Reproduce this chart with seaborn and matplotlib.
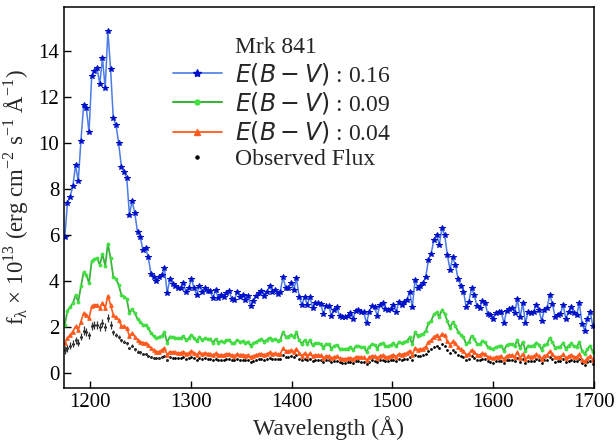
import numpy as np
import matplotlib
matplotlib.use('Agg')
import matplotlib.pyplot as plt
from matplotlib.lines import Line2D
import seaborn as sns

# Mrk 841 UV spectrum (flux in 1e-13 erg/cm2/s/A)
N_PIX = 197
WAVE = np.linspace(1174.9, 1699.0, N_PIX)

FLUX_016 = [
    5.93, 7.41, 7.69, 8.13, 9.06, 8.36, 10.12, 11.68, 11.54, 10.48,
    12.92, 13.13, 13.26, 12.60, 13.70, 12.39, 14.89, 13.25, 11.10, 10.81,
    10.02, 8.99, 8.75, 8.51, 6.90, 7.49, 6.97, 6.14, 5.93, 5.37,
    5.45, 5.04, 4.33, 4.17, 4.00, 4.17, 4.27, 4.58, 3.49, 4.10,
    3.88, 3.78, 3.71, 3.71, 3.95, 3.53, 3.71, 4.10, 3.71, 3.42,
    3.82, 3.53, 3.71, 3.60, 3.60, 3.27, 3.63, 3.27, 3.42, 3.32,
    3.49, 3.59, 3.23, 3.20, 3.56, 3.32, 3.42, 3.20, 3.37, 2.94,
    3.16, 3.37, 3.49, 3.60, 3.37, 3.56, 3.78, 3.56, 3.63, 3.46,
    3.56, 4.19, 3.73, 3.71, 3.92, 3.63, 4.14, 3.34, 2.98, 3.34,
    2.98, 3.34, 2.84, 3.08, 3.05, 3.01, 2.59, 2.94, 2.94, 2.50,
    2.76, 2.88, 2.50, 2.45, 2.45, 2.50, 2.62, 2.37, 2.73, 2.76,
    2.68, 2.65, 2.18, 2.69, 2.94, 2.88, 2.50, 2.98, 3.05, 2.79,
    2.75, 2.81, 2.98, 2.66, 3.10, 2.98, 3.12, 3.20, 3.55, 2.88,
    4.04, 3.73, 3.81, 3.92, 4.21, 4.94, 5.20, 5.81, 6.03, 5.59,
    6.30, 6.03, 5.16, 4.50, 5.04, 4.72, 4.10, 3.81, 3.56, 2.88,
    3.12, 3.71, 3.39, 2.94, 2.86, 3.15, 3.08, 2.58, 2.55, 2.36,
    2.62, 2.65, 2.69, 2.18, 2.72, 2.79, 2.84, 2.62, 3.24, 2.43,
    3.05, 2.18, 2.69, 2.62, 2.69, 2.98, 2.76, 2.28, 2.76, 2.84,
    3.42, 3.02, 2.47, 2.55, 2.58, 2.98, 2.36, 2.69, 2.88, 2.62,
    2.55, 3.05, 2.15, 1.86, 2.36, 2.69, 2.07,
]

FLUX_009 = [
    2.11, 2.72, 2.88, 3.05, 3.40, 3.12, 3.78, 4.40, 4.29, 3.92,
    4.87, 4.97, 5.01, 4.72, 5.19, 4.68, 5.64, 5.01, 4.21, 4.10,
    3.85, 3.42, 3.34, 3.23, 2.62, 2.79, 2.62, 2.36, 2.25, 2.11,
    2.11, 1.97, 1.75, 1.63, 1.53, 1.58, 1.63, 1.78, 1.34, 1.60,
    1.59, 1.55, 1.52, 1.52, 1.62, 1.45, 1.52, 1.68, 1.52, 1.40,
    1.57, 1.45, 1.52, 1.48, 1.48, 1.34, 1.49, 1.34, 1.40, 1.36,
    1.43, 1.47, 1.32, 1.31, 1.46, 1.36, 1.40, 1.31, 1.38, 1.21,
    1.30, 1.38, 1.43, 1.48, 1.38, 1.46, 1.55, 1.46, 1.49, 1.42,
    1.46, 1.80, 1.60, 1.60, 1.69, 1.56, 1.78, 1.44, 1.28, 1.44,
    1.28, 1.44, 1.22, 1.32, 1.31, 1.29, 1.11, 1.26, 1.26, 1.08,
    1.19, 1.24, 1.08, 1.05, 1.05, 1.08, 1.13, 1.02, 1.17, 1.19,
    1.15, 1.14, 0.94, 1.16, 1.26, 1.24, 1.08, 1.28, 1.31, 1.20,
    1.18, 1.24, 1.31, 1.17, 1.36, 1.31, 1.37, 1.41, 1.56, 1.27,
    1.78, 1.64, 1.68, 1.72, 1.85, 2.17, 2.29, 2.56, 2.65, 2.46,
    2.77, 2.60, 2.27, 1.98, 2.22, 2.08, 1.80, 1.68, 1.57, 1.27,
    1.37, 1.63, 1.49, 1.29, 1.26, 1.39, 1.36, 1.14, 1.12, 1.04,
    1.15, 1.17, 1.21, 0.98, 1.22, 1.26, 1.28, 1.18, 1.46, 1.09,
    1.37, 0.98, 1.21, 1.18, 1.21, 1.34, 1.24, 1.03, 1.24, 1.28,
    1.54, 1.36, 1.11, 1.15, 1.16, 1.34, 1.06, 1.21, 1.30, 1.18,
    1.15, 1.37, 0.97, 0.84, 1.06, 1.21, 0.93,
]

FLUX_004 = [
    1.31, 1.53, 1.68, 1.82, 2.04, 1.89, 2.25, 2.62, 2.55, 2.40,
    2.91, 2.98, 2.98, 2.84, 3.08, 2.84, 3.37, 2.98, 2.55, 2.43,
    2.33, 2.07, 2.04, 1.97, 1.63, 1.75, 1.60, 1.46, 1.38, 1.34,
    1.31, 1.24, 1.10, 1.02, 0.95, 0.95, 1.02, 1.10, 0.81, 0.95,
    0.93, 0.91, 0.89, 0.89, 0.95, 0.85, 0.89, 0.98, 0.89, 0.82,
    0.92, 0.85, 0.89, 0.86, 0.86, 0.78, 0.87, 0.78, 0.82, 0.80,
    0.84, 0.86, 0.78, 0.77, 0.85, 0.80, 0.82, 0.77, 0.81, 0.71,
    0.76, 0.81, 0.84, 0.86, 0.81, 0.85, 0.91, 0.85, 0.87, 0.83,
    0.85, 1.09, 0.97, 0.96, 1.02, 0.94, 1.08, 0.87, 0.77, 0.87,
    0.77, 0.87, 0.74, 0.80, 0.79, 0.78, 0.67, 0.76, 0.76, 0.65,
    0.72, 0.75, 0.65, 0.64, 0.64, 0.65, 0.68, 0.62, 0.71, 0.72,
    0.70, 0.69, 0.57, 0.70, 0.76, 0.75, 0.65, 0.77, 0.79, 0.73,
    0.72, 0.77, 0.82, 0.73, 0.85, 0.82, 0.86, 0.88, 0.98, 0.79,
    1.11, 1.03, 1.05, 1.08, 1.16, 1.36, 1.43, 1.60, 1.66, 1.54,
    1.73, 1.66, 1.42, 1.24, 1.39, 1.30, 1.13, 1.05, 0.98, 0.79,
    0.86, 1.02, 0.93, 0.81, 0.79, 0.87, 0.85, 0.71, 0.70, 0.65,
    0.72, 0.73, 0.75, 0.61, 0.76, 0.78, 0.80, 0.73, 0.91, 0.68,
    0.85, 0.61, 0.75, 0.73, 0.75, 0.83, 0.77, 0.64, 0.77, 0.80,
    0.96, 0.85, 0.69, 0.71, 0.72, 0.83, 0.66, 0.75, 0.81, 0.73,
    0.71, 0.85, 0.60, 0.52, 0.66, 0.75, 0.58,
]

FLUX_OBS = [
    1.02, 1.10, 1.20, 1.28, 1.43, 1.34, 1.60, 1.86, 1.81, 1.66,
    2.07, 2.11, 2.11, 2.01, 2.18, 2.01, 2.40, 2.11, 1.78, 1.68,
    1.58, 1.43, 1.38, 1.31, 1.10, 1.20, 1.05, 0.95, 0.91, 0.85,
    0.85, 0.76, 0.70, 0.66, 0.66, 0.66, 0.70, 0.76, 0.59, 0.72,
    0.68, 0.66, 0.65, 0.65, 0.69, 0.62, 0.65, 0.72, 0.65, 0.60,
    0.67, 0.62, 0.65, 0.63, 0.63, 0.57, 0.64, 0.57, 0.60, 0.58,
    0.61, 0.63, 0.57, 0.56, 0.62, 0.58, 0.60, 0.56, 0.59, 0.51,
    0.55, 0.59, 0.61, 0.63, 0.59, 0.62, 0.66, 0.62, 0.64, 0.61,
    0.62, 0.80, 0.71, 0.70, 0.74, 0.69, 0.79, 0.63, 0.57, 0.63,
    0.57, 0.63, 0.54, 0.59, 0.58, 0.57, 0.49, 0.56, 0.56, 0.48,
    0.52, 0.55, 0.48, 0.47, 0.47, 0.48, 0.50, 0.45, 0.52, 0.52,
    0.51, 0.50, 0.41, 0.51, 0.56, 0.55, 0.48, 0.57, 0.58, 0.53,
    0.52, 0.56, 0.60, 0.53, 0.62, 0.60, 0.62, 0.64, 0.71, 0.58,
    0.81, 0.75, 0.76, 0.78, 0.84, 0.99, 1.04, 1.16, 1.21, 1.12,
    1.26, 1.21, 1.03, 0.90, 1.01, 0.94, 0.82, 0.76, 0.71, 0.58,
    0.62, 0.74, 0.68, 0.59, 0.57, 0.63, 0.62, 0.52, 0.51, 0.47,
    0.52, 0.53, 0.55, 0.45, 0.56, 0.57, 0.58, 0.54, 0.66, 0.50,
    0.63, 0.45, 0.55, 0.54, 0.55, 0.61, 0.57, 0.47, 0.57, 0.58,
    0.70, 0.62, 0.51, 0.52, 0.53, 0.61, 0.48, 0.55, 0.59, 0.54,
    0.52, 0.63, 0.44, 0.38, 0.48, 0.55, 0.42,
]

# error bars only visible on the blue side of Lya
ERR_OBS = [
    0.16, 0.15, 0.16, 0.15, 0.17, 0.15, 0.17, 0.18, 0.17, 0.16,
    0.18, 0.17, 0.18, 0.17, 0.18, 0.17, 0.18, 0.16, 0.10, 0.09,
    0.08, 0.07, 0.07, 0.07, 0.06, 0.06, 0.06, 0.05, 0.05, 0.05,
    0.05, 0.05, 0.04, 0.04, 0.04, 0.04, 0.04, 0.04, 0.04, 0.04,
]

X_TICKS = [1200, 1300, 1400, 1500, 1600, 1700]
Y_TICKS = [0, 2, 4, 6, 8, 10, 12, 14]

sns.set_style('ticks')
plt.rcParams['font.family'] = ['Liberation Serif', 'DejaVu Sans']
plt.rcParams['mathtext.fontset'] = 'dejavusans'
plt.rcParams['xtick.direction'] = 'in'
plt.rcParams['ytick.direction'] = 'in'

fig = plt.figure(figsize=(6.16, 4.4), dpi=100)
ax = fig.add_axes([0.104, 0.118, 0.860, 0.867])

blue_line, blue_mark = '#4a7be6', '#0010c8'
green_line, green_mark = '#3cb43c', '#40e040'
orange_line = '#ff5a1e'

sns.lineplot(x=WAVE, y=FLUX_016, ax=ax, color=blue_line, lw=1.1, marker='*',
             markersize=3.8, markerfacecolor=blue_mark, markeredgecolor=blue_mark,
             estimator=None, sort=False)
sns.lineplot(x=WAVE, y=FLUX_009, ax=ax, color=green_line, lw=1.3, marker='o',
             markersize=2.0, markerfacecolor=green_mark, markeredgecolor=green_mark,
             estimator=None, sort=False)
sns.lineplot(x=WAVE, y=FLUX_004, ax=ax, color=orange_line, lw=1.2, marker='^',
             markersize=2.6, markerfacecolor=orange_line, markeredgecolor=orange_line,
             estimator=None, sort=False)
n_err = len(ERR_OBS)
ax.errorbar(WAVE[:n_err], FLUX_OBS[:n_err], yerr=ERR_OBS, fmt='none',
            ecolor='#333333', elinewidth=0.9, capsize=0)
sns.scatterplot(x=WAVE, y=FLUX_OBS, ax=ax, color='black', s=4, linewidth=0)

ax.set_xlim(1174.2, 1700)
ax.set_ylim(-0.64, 15.95)
ax.set_xticks(X_TICKS)
ax.set_yticks(Y_TICKS)
ax.tick_params(labelsize=15, length=5, width=1.0, colors='black')
for sp in ax.spines.values():
    sp.set_linewidth(1.1)
    sp.set_color('black')

ax.set_xlabel('Wavelength (Å)', fontsize=17, labelpad=3)
ax.set_ylabel(r'f$_\mathregular{λ}$ × 10$^\mathregular{13}$ (erg cm$^\mathregular{-2}$ '
              r's$^\mathregular{-1}$ Å$^\mathregular{-1}$)', fontsize=16.5, labelpad=5)

handles = [
    Line2D([], [], linestyle='none', marker=None),
    Line2D([], [], color=blue_line, lw=1.2, marker='*', markersize=6,
           markerfacecolor=blue_mark, markeredgecolor=blue_mark),
    Line2D([], [], color=green_line, lw=1.5, marker='o', markersize=3.5,
           markerfacecolor=green_mark, markeredgecolor=green_mark),
    Line2D([], [], color=orange_line, lw=1.3, marker='^', markersize=5,
           markerfacecolor=orange_line, markeredgecolor=orange_line),
    Line2D([], [], linestyle='none', marker='o', markersize=2.2, color='black'),
]
labels = ['Mrk 841', r'$E(B-V)$ : 0.16', r'$E(B-V)$ : 0.09',
          r'$E(B-V)$ : 0.04', 'Observed Flux']
ax.legend(handles, labels, loc='upper left', bbox_to_anchor=(0.262, 0.945),
          bbox_transform=fig.transFigure, frameon=False, fontsize=17,
          handlelength=2.05, handletextpad=0.55, labelspacing=0.14, borderpad=0)

fig.savefig('out.png', dpi=100)
